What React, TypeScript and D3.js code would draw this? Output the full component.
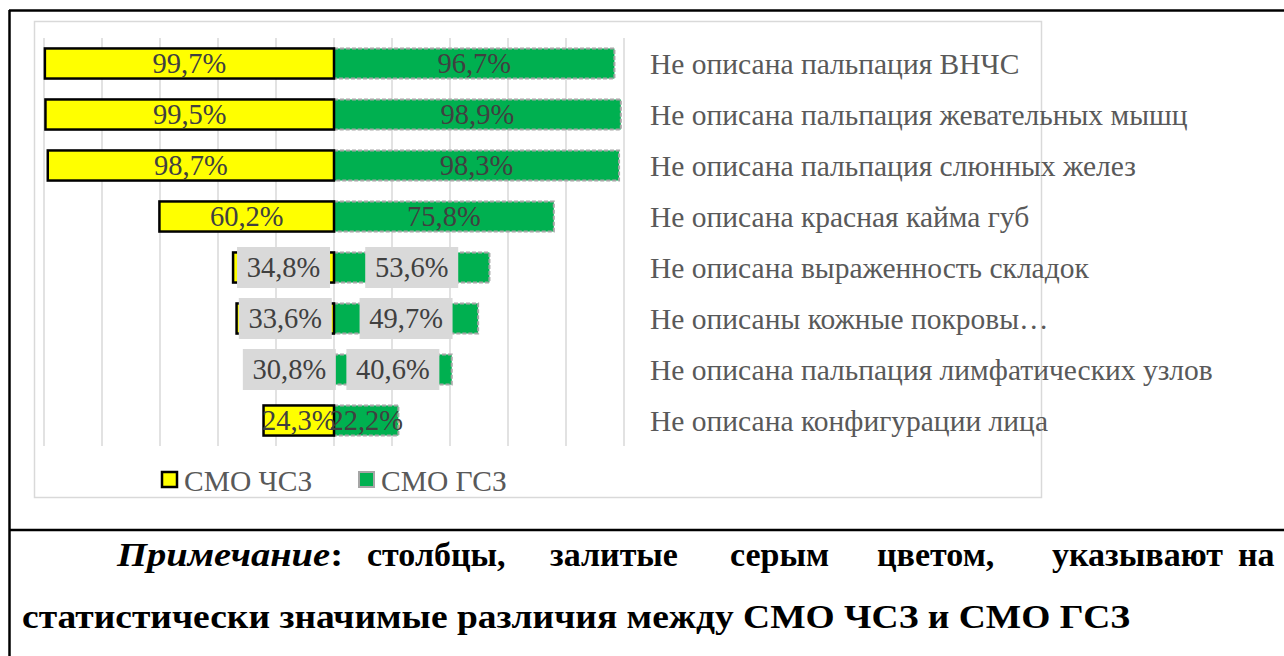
import * as d3 from "d3";

// categories, top to bottom
const categories = [
  "Не описана пальпация ВНЧС",
  "Не описана пальпация жевательных мышц",
  "Не описана пальпация слюнных желез",
  "Не описана красная кайма губ",
  "Не описана выраженность складок",
  "Не описаны кожные покровы…",
  "Не описана пальпация лимфатических узлов",
  "Не описана конфигурации лица",
];
const chszValues = [99.7, 99.5, 98.7, 60.2, 34.8, 33.6, 30.8, 24.3]; // СМО ЧСЗ
const gszValues = [96.7, 98.9, 98.3, 75.8, 53.6, 49.7, 40.6, 22.2]; // СМО ГСЗ
const significant = [false, false, false, false, true, true, true, false];
const seriesNames = ["СМО ЧСЗ", "СМО ГСЗ"];
const xTicks = [-100, -80, -60, -40, -20, 0, 20, 40, 60, 80, 100];
const noteLine1 = ["столбцы,", "залитые", "серым", "цветом,", "указывают", "на"];
const noteLine2 = "статистически значимые различия между СМО ЧСЗ и СМО ГСЗ";

const W = 1284;
const H = 656;
const serif = "'Liberation Serif', 'Times New Roman', serif";
const YELLOW = "#FFFF00";
const GREEN = "#00B050";

const fmt = (v: number) => v.toFixed(1).replace(".", ",") + "%";

export default function App() {
  const x = d3.scaleLinear().domain([-100, 100]).range([44, 624]);
  const y = d3
    .scaleBand<string>()
    .domain(categories)
    .range([38, 446])
    .paddingInner(0.41)
    .paddingOuter(0.205);
  const bw = y.bandwidth();
  const cy = (c: string) => (y(c) ?? 0) + bw / 2;

  // hand-justified first line of the note
  const line1X = [367, 550, 730, 877, 1052, 1238];
  const txt = { fontFamily: serif };

  return (
    <svg
      width={W}
      height={H}
      style={{ position: "absolute", left: 0, top: 0, background: "#fff", fontFamily: serif }}
    >
      {/* outer table frame */}
      <line x1={9} x2={W} y1={10.5} y2={10.5} stroke="#000" strokeWidth={2.5} />
      <line x1={9.5} x2={9.5} y1={10} y2={H} stroke="#000" strokeWidth={2.5} />
      <line x1={9} x2={W} y1={530} y2={530} stroke="#000" strokeWidth={2.5} />

      {/* chart area border */}
      <rect x={34.5} y={21.5} width={1007} height={476} fill="#fff" stroke="#D9D9D9" strokeWidth={1.5} />

      {/* grid */}
      {xTicks.map((t) => (
        <line key={t} x1={x(t)} x2={x(t)} y1={38} y2={446} stroke="#D9D9D9" strokeWidth={1.5} />
      ))}

      {/* green bars (СМО ГСЗ) */}
      {categories.map((c, i) => (
        <rect
          key={"g" + i}
          x={x(0)}
          y={y(c)}
          width={x(gszValues[i]) - x(0)}
          height={bw}
          fill={GREEN}
          stroke="#A6A6A6"
          strokeWidth={2}
          strokeDasharray="4,2"
        />
      ))}

      {/* yellow bars (СМО ЧСЗ) */}
      {categories.map((c, i) => (
        <rect
          key={"y" + i}
          x={x(-chszValues[i])}
          y={y(c)}
          width={x(0) - x(-chszValues[i])}
          height={bw}
          fill={YELLOW}
          stroke="#000"
          strokeWidth={2.5}
        />
      ))}

      {/* data labels */}
      {categories.map((c, i) => {
        const lx = (x(-chszValues[i]) + x(0)) / 2;
        const rx = (x(0) + x(gszValues[i])) / 2;
        return (
          <g key={"l" + i} fontSize={28.5} fill="#404040" textAnchor="middle">
            {significant[i] && (
              <>
                <rect x={lx - 46.5} y={cy(c) - 20.5} width={93} height={41} fill="#D9D9D9" />
                <rect x={rx - 46.5} y={cy(c) - 20.5} width={93} height={41} fill="#D9D9D9" />
              </>
            )}
            <text x={lx} y={cy(c)} dy="0.35em" style={txt}>
              {fmt(chszValues[i])}
            </text>
            <text x={rx} y={cy(c)} dy="0.35em" style={txt}>
              {fmt(gszValues[i])}
            </text>
          </g>
        );
      })}

      {/* category labels */}
      {categories.map((c) => (
        <text key={c} x={650} y={cy(c)} dy="0.35em" fontSize={29.5} fill="#595959" style={txt}>
          {c}
        </text>
      ))}

      {/* legend */}
      <rect x={162} y={472} width={15} height={15} fill={YELLOW} stroke="#000" strokeWidth={2.5} />
      <text x={184} y={481} dy="0.35em" fontSize={29.5} fill="#595959" style={txt}>
        {seriesNames[0]}
      </text>
      <rect x={359} y={472} width={15} height={15} fill={GREEN} stroke="#A6A6A6" strokeWidth={2} />
      <text x={381} y={481} dy="0.35em" fontSize={29.5} fill="#595959" style={txt}>
        {seriesNames[1]}
      </text>

      {/* note */}
      <g fontWeight="bold" fontSize={34} fill="#000">
        <text x={117} y={566} textLength={226} lengthAdjust="spacingAndGlyphs" style={txt}>
          <tspan fontStyle="italic">Примечание</tspan>:
        </text>
        {noteLine1.map((w, i) => (
          <text key={w} x={line1X[i]} y={566} style={txt}>
            {w}
          </text>
        ))}
        <text x={22} y={628} textLength={1108} lengthAdjust="spacingAndGlyphs" style={txt}>
          {noteLine2}
        </text>
      </g>
    </svg>
  );
}
